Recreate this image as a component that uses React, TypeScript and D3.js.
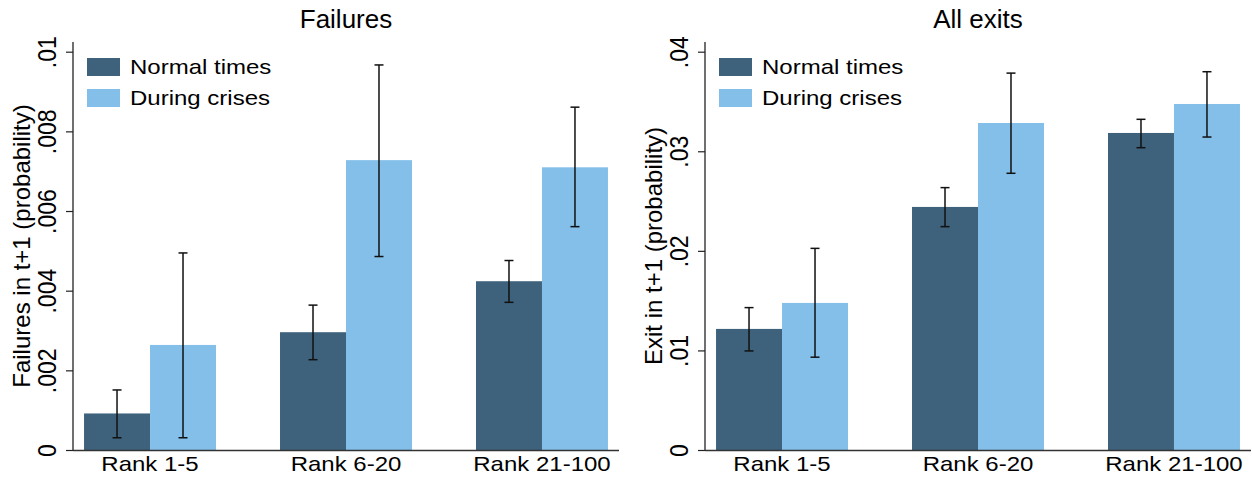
import React from "react";
import * as d3 from "d3";

const categories = ["Rank 1-5", "Rank 6-20", "Rank 21-100"];
const seriesNames = ["Normal times", "During crises"];
const seriesColors = ["#3e627c", "#83bfe9"];

// Panel 1: Failures
const failNormal = [0.00093, 0.00297, 0.00425];
const failNormalLo = [0.00032, 0.00228, 0.00372];
const failNormalHi = [0.00152, 0.00365, 0.00477];
const failCrisis = [0.00265, 0.00729, 0.00711];
const failCrisisLo = [0.00032, 0.00487, 0.00562];
const failCrisisHi = [0.00496, 0.00968, 0.00862];
const failTicks = [0, 0.002, 0.004, 0.006, 0.008, 0.01];
const failTickLabels = ["0", ".002", ".004", ".006", ".008", ".01"];

// Panel 2: All exits
const exitNormal = [0.01221, 0.02446, 0.03189];
const exitNormalLo = [0.01, 0.02248, 0.03041];
const exitNormalHi = [0.01435, 0.0264, 0.03326];
const exitCrisis = [0.01482, 0.03289, 0.0348];
const exitCrisisLo = [0.00937, 0.02784, 0.03148];
const exitCrisisHi = [0.0203, 0.0379, 0.03804];
const exitTicks = [0, 0.01, 0.02, 0.03, 0.04];
const exitTickLabels = ["0", ".01", ".02", ".03", ".04"];

const FONT = "'Liberation Sans', Arial, Helvetica, sans-serif";

type PanelProps = {
  x0: number;
  title: string;
  yTitle: string;
  yMax: number;
  ticks: number[];
  tickLabels: string[];
  values: number[][];
  lo: number[][];
  hi: number[][];
};

function Panel({ x0, title, yTitle, yMax, ticks, tickLabels, values, lo, hi }: PanelProps) {
  const left = x0;
  const right = x0 + 546;
  const top = 42;
  const y = d3.scaleLinear().domain([0, yMax]).range([450.5, 52.2]);
  const x = d3.scalePoint<string>().domain(categories).range([left, right]).padding(0.393);
  const barW = x.step() * 0.3367;
  const inner = d3.scaleBand<string>().domain(seriesNames).range([-barW, barW]).padding(0);
  const cx = (left + right) / 2;
  const capW = 4.5;

  return (
    <g>
      <text x={cx} y={28} textAnchor="middle" fontSize={26} fontFamily={FONT} fill="#000">
        {title}
      </text>
      {/* bars */}
      {categories.map((c, i) =>
        seriesNames.map((s, j) => {
          const bx = (x(c) as number) + (inner(s) as number);
          return (
            <rect
              key={c + s}
              x={bx}
              y={y(values[j][i])}
              width={inner.bandwidth()}
              height={y(0) - y(values[j][i])}
              fill={seriesColors[j]}
            />
          );
        })
      )}
      {/* error bars */}
      {categories.map((c, i) =>
        seriesNames.map((s, j) => {
          const ex = (x(c) as number) + (inner(s) as number) + inner.bandwidth() / 2;
          return (
            <g key={"e" + c + s} stroke="#111" strokeWidth={1.5}>
              <line x1={ex} x2={ex} y1={y(lo[j][i])} y2={y(hi[j][i])} />
              <line x1={ex - capW} x2={ex + capW} y1={y(lo[j][i])} y2={y(lo[j][i])} />
              <line x1={ex - capW} x2={ex + capW} y1={y(hi[j][i])} y2={y(hi[j][i])} />
            </g>
          );
        })
      )}
      {/* axes */}
      <line x1={left} x2={left} y1={top} y2={y(0)} stroke="#222" strokeWidth={1.3} />
      <line x1={left} x2={right} y1={y(0)} y2={y(0)} stroke="#333" strokeWidth={1.3} />
      {ticks.map((t, i) => (
        <g key={"t" + i}>
          <line x1={left - 7} x2={left} y1={y(t)} y2={y(t)} stroke="#222" strokeWidth={1.2} />
          <text
            transform={`translate(${left - 17},${y(t)}) scale(1.15,1) rotate(-90)`}
            textAnchor="middle"
            fontSize={23}
            fontFamily={FONT}
            fill="#000"
          >
            {tickLabels[i]}
          </text>
        </g>
      ))}
      {categories.map((c) => (
        <text
          key={"x" + c}
          transform={`translate(${x(c)},470.5) scale(1,0.86)`}
          textAnchor="middle"
          fontSize={24}
          fontFamily={FONT}
          fill="#000"
        >
          {c}
        </text>
      ))}
      <text
        transform={`translate(${left - 43},246) rotate(-90)`}
        textAnchor="middle"
        fontSize={24}
        fontFamily={FONT}
        fill="#000"
      >
        {yTitle}
      </text>
      {/* legend */}
      {seriesNames.map((s, j) => (
        <g key={"l" + s}>
          <rect x={left + 14} y={58 + j * 31} width={33} height={18} fill={seriesColors[j]} />
          <text
            transform={`translate(${left + 57},${74 + j * 31}) scale(1,0.86)`}
            fontSize={24}
            fontFamily={FONT}
            fill="#000"
          >
            {s}
          </text>
        </g>
      ))}
    </g>
  );
}

export default function App() {
  return (
    <svg
      width={1252}
      height={477}
      style={{ position: "absolute", left: 0, top: 0, background: "#fff" }}
    >
      <rect x={0} y={0} width={1252} height={477} fill="#fff" />
      <Panel
        x0={73}
        title="Failures"
        yTitle="Failures in t+1 (probability)"
        yMax={0.01}
        ticks={failTicks}
        tickLabels={failTickLabels}
        values={[failNormal, failCrisis]}
        lo={[failNormalLo, failCrisisLo]}
        hi={[failNormalHi, failCrisisHi]}
      />
      <Panel
        x0={705}
        title="All exits"
        yTitle="Exit in t+1 (probability)"
        yMax={0.04}
        ticks={exitTicks}
        tickLabels={exitTickLabels}
        values={[exitNormal, exitCrisis]}
        lo={[exitNormalLo, exitCrisisLo]}
        hi={[exitNormalHi, exitCrisisHi]}
      />
    </svg>
  );
}
